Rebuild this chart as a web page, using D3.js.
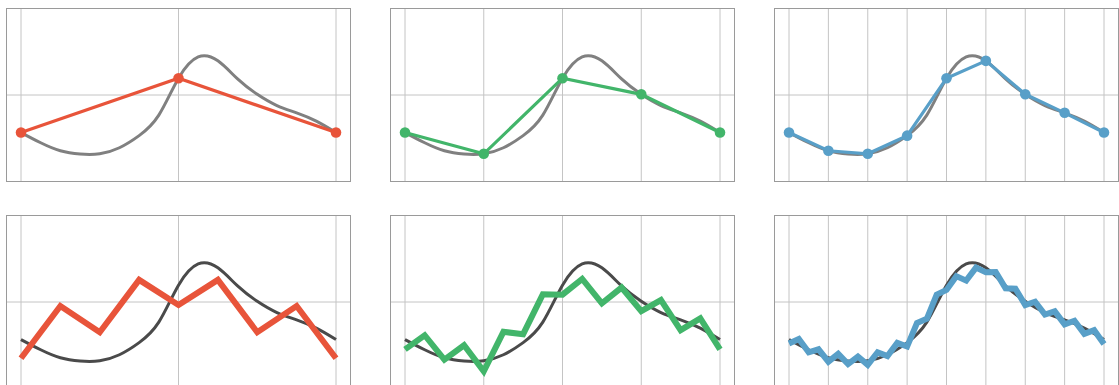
<!DOCTYPE html>
<html>
<head>
<meta charset="utf-8">
<script src="https://cdn.jsdelivr.net/npm/d3@7"></script>
<style>
  html, body { margin: 0; padding: 0; background: #fff; }
  svg { display: block; }
</style>
</head>
<body>
<svg id="chart" width="1119" height="385"></svg>
<script>
// Underlying smooth signal, sampled at 17 evenly spaced positions
const signal = [-0.434, -0.552, -0.645, -0.683, -0.68, -0.61, -0.47, -0.233, 0.194,
                0.44, 0.395, 0.186, 0.008, -0.122, -0.206, -0.302, -0.434];

// Exact samples of the signal (top row)
const exact3 = [-0.434, 0.194, -0.434];
const exact5 = [-0.434, -0.68, 0.194, 0.008, -0.434];
const exact9 = [-0.434, -0.645, -0.68, -0.47, 0.194, 0.395, 0.008, -0.206, -0.434];

// Noisy samples of the signal (bottom row)
const noisy9 = [-0.651, -0.047, -0.349, 0.256, -0.035, 0.256, -0.349, -0.047, -0.651];
const noisy17 = [-0.547, -0.384, -0.667, -0.5, -0.802, -0.345, -0.372, 0.089, 0.085,
                 0.267, -0.016, 0.167, -0.105, 0.023, -0.326, -0.19, -0.547];
const noisy33 = [-0.479, -0.428, -0.581, -0.547, -0.69, -0.60, -0.717, -0.63, -0.727,
                 -0.581, -0.626, -0.473, -0.515, -0.244, -0.194, 0.085, 0.14, 0.299,
                 0.247, 0.398, 0.343, 0.347, 0.159, 0.153, -0.035, 0.003, -0.145,
                 -0.108, -0.258, -0.217, -0.369, -0.326, -0.485];

// Grid positions along x for each column
const xTicks3 = [0, 0.5, 1];
const xTicks5 = [0, 0.25, 0.5, 0.75, 1];
const xTicks9 = [0, 0.125, 0.25, 0.375, 0.5, 0.625, 0.75, 0.875, 1];
const yTicks = [0];

const colors = { red: "#e8543a", green: "#42b56a", blue: "#589fc8" };

const panels = [
  { col: 0, row: 0, ticks: xTicks3, values: exact3, color: colors.red, dots: true },
  { col: 1, row: 0, ticks: xTicks5, values: exact5, color: colors.green, dots: true },
  { col: 2, row: 0, ticks: xTicks9, values: exact9, color: colors.blue, dots: true },
  { col: 0, row: 1, ticks: xTicks3, values: noisy9, color: colors.red, dots: false },
  { col: 1, row: 1, ticks: xTicks5, values: noisy17, color: colors.green, dots: false },
  { col: 2, row: 1, ticks: xTicks9, values: noisy33, color: colors.blue, dots: false }
];

const panelW = 344, panelH = 173;
const colX = [6.5, 390.5, 774.5];
const rowY = [8.5, 215.5];

const x = d3.scaleLinear().domain([0, 1]).range([14.5, 329.5]);
const y = d3.scaleLinear().domain([-1, 1]).range([panelH, 0]);

const svg = d3.select("#chart");

const at = arr => arr.map((v, i) => ({ t: i / (arr.length - 1), v }));

panels.forEach(p => {
  const g = svg.append("g")
    .attr("transform", `translate(${colX[p.col]},${rowY[p.row]})`);

  // Grid
  g.selectAll(".vgrid").data(p.ticks).join("line")
    .attr("x1", d => x(d)).attr("x2", d => x(d))
    .attr("y1", 0).attr("y2", panelH)
    .attr("stroke", "#c4c4c4").attr("stroke-width", 1);
  g.selectAll(".hgrid").data(yTicks).join("line")
    .attr("x1", 0).attr("x2", panelW)
    .attr("y1", d => y(d)).attr("y2", d => y(d))
    .attr("stroke", "#c4c4c4").attr("stroke-width", 1);

  // Frame
  g.append("rect")
    .attr("x", 0).attr("y", 0).attr("width", panelW).attr("height", panelH)
    .attr("fill", "none").attr("stroke", "#9a9a9a").attr("stroke-width", 1);

  // Smooth signal
  const smooth = d3.line()
    .x(d => x(d.t)).y(d => y(d.v))
    .curve(d3.curveNatural);
  g.append("path")
    .attr("d", smooth(at(signal)))
    .attr("fill", "none")
    .attr("stroke", p.row === 0 ? "#808080" : "#4a4a4a")
    .attr("stroke-width", 3);

  // Sampled series
  const straight = d3.line().x(d => x(d.t)).y(d => y(d.v));
  g.append("path")
    .attr("d", straight(at(p.values)))
    .attr("fill", "none")
    .attr("stroke", p.color)
    .attr("stroke-width", p.row === 0 ? 3.2 : 6)
    .attr("stroke-linejoin", "miter");

  if (p.dots) {
    g.selectAll(".dot").data(at(p.values)).join("circle")
      .attr("cx", d => x(d.t)).attr("cy", d => y(d.v))
      .attr("r", 5.3)
      .attr("fill", p.color);
  }
});
</script>
</body>
</html>
